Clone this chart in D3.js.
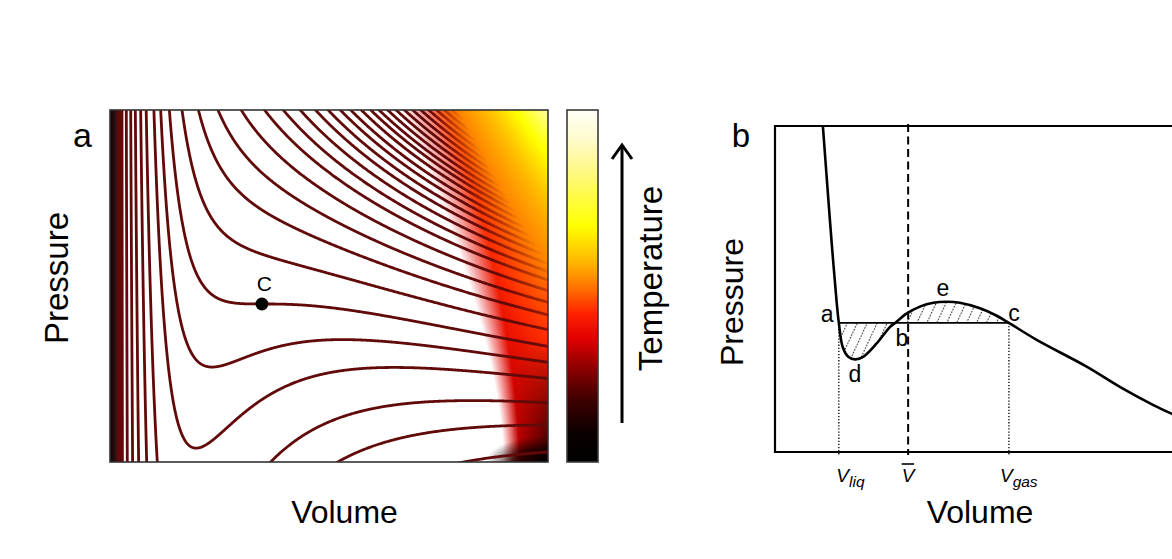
<!DOCTYPE html>
<html>
<head>
<meta charset="utf-8">
<script src="https://cdn.jsdelivr.net/npm/d3@7"></script>
<style>
  html, body { margin: 0; padding: 0; background: #fff; }
  svg { display: block; font-family: "Liberation Sans", Arial, sans-serif; }
</style>
</head>
<body>
<svg id="fig" width="1172" height="559"></svg>
<script>
// ---------- Panel a: reduced van der Waals isotherms, P = 8T/(3V-1) - 3/V^2 ----------
const volumeRangeA = [0.30, 2.318];
const pressureRangeA = [0.20, 1.982];
// reduced temperature of every isotherm drawn (sub-critical, critical, super-critical)
const isothermTemps = [
  0.04, 0.12, 0.212, 0.365, 0.493, 0.602, 0.704, 0.788, 0.879, 0.940,
  1.000,
  1.063, 1.119, 1.166, 1.210, 1.250, 1.282, 1.312, 1.340, 1.364, 1.388, 1.409, 1.431,
  1.451, 1.469, 1.488, 1.507, 1.526, 1.545, 1.564, 1.583, 1.602, 1.621, 1.640, 1.659,
  1.678, 1.697, 1.716, 1.735, 1.754, 1.773, 1.792, 1.811, 1.830, 1.849, 1.868, 1.887
];
const criticalPoint = { V: 1, P: 1, label: "C" };
// temperature colour scale of the colour bar (bottom = cold, top = hot)
const tempStops  = [0, 0.08, 0.18, 0.27, 0.35, 0.42, 0.50, 0.56, 0.67, 0.84, 0.92, 1];
const tempColors = ["#000000", "#0a0000", "#400000", "#900000", "#e00000", "#ff2000",
                    "#ff7800", "#ffb000", "#ffff00", "#fff890", "#fffbd0", "#fffff5"];

// ---------- Panel b: one sub-critical isotherm with the Maxwell construction ----------
const isothermV = [1.14, 1.23, 1.35, 1.47, 1.52, 1.61, 1.745, 1.905, 2.10, 2.42, 2.74, 2.86,
                   3.14, 3.45, 3.77, 4.09, 4.40, 4.88, 5.28, 5.57, 6.23, 7.42, 8.21, 9.01, 9.45, 10.0];
const isothermP = [10.0, 8.44, 6.41, 4.57, 3.96, 3.23, 2.92, 2.84, 2.92, 3.33, 3.84, 3.96,
                   4.25, 4.46, 4.58, 4.61, 4.58, 4.41, 4.18, 3.96, 3.44, 2.62, 2.00, 1.44, 1.17, 0.86];
const maxwellP = 3.96;
const vLiq = 1.52, vBar = 3.17, vGas = 5.57;
const pointNames = ["a", "b", "c", "d", "e"];
const pointLabelV = [1.24, 3.02, 5.69, 1.905, 4.00];
const pointLabelP = [4.00, 3.24, 4.03, 2.16, 4.77];

const svg = d3.select("#fig");
const defs = svg.append("defs");
const clamp01 = v => Math.max(0, Math.min(1, v));

// ================= Panel a =================
const xa = d3.scaleLinear().domain(volumeRangeA).range([110, 548]);
const ya = d3.scaleLinear().domain(pressureRangeA).range([462, 110]);
const [ax0, ax1] = xa.range(), [ay1, ay0] = ya.range();
const aw = ax1 - ax0, ah = ay1 - ay0;

defs.append("clipPath").attr("id", "clipA")
  .append("rect").attr("x", ax0).attr("y", ay0).attr("width", aw).attr("height", ah);

// glow of the hottest, densely packed isotherms (rendered once, used under and over the lines)
const glowRamp = d3.scaleLinear()
  .domain([0, 0.12, 0.3, 0.55, 0.75, 1])
  .range(["#e00000", "#ff3000", "#ff8000", "#ffc000", "#ffff00", "#ffffa0"])
  .clamp(true);
const glowLut = d3.range(256).map(k => d3.rgb(glowRamp(k / 255)));
function glowImage(onTop) {
  const cv = document.createElement("canvas");
  cv.width = aw; cv.height = ah;
  const ctx = cv.getContext("2d");
  const img = ctx.createImageData(aw, ah);
  for (let j = 0; j < ah; j++) {
    const w = 1 - (j + 0.5) / ah;
    const edge = 0.91 - 0.21 * Math.pow(w, 1.6);
    const dark = clamp01((0.35 - w) / 0.35);
    const lift = w * w;
    for (let i = 0; i < aw; i++) {
      const u = (i + 0.5) / aw;
      const h = (u - edge) / (1 - edge);
      if (h < -0.12) continue;
      const t = Math.max(0, h) * lift;
      const a = onTop ? clamp01((t - 0.08) / 0.25) : clamp01((h + 0.12) / 0.4);
      if (a <= 0) continue;
      const c = glowLut[Math.round(clamp01(t) * 255)];
      const k = 0.9 * dark * clamp01(h);
      const p = 4 * (j * aw + i);
      img.data[p] = c.r + (26 - c.r) * k;
      img.data[p + 1] = c.g * (1 - k);
      img.data[p + 2] = c.b * (1 - k);
      img.data[p + 3] = 255 * a;
    }
  }
  ctx.putImageData(img, 0, 0);
  return cv.toDataURL();
}

// dense dark bundle along the left wall
const wall = defs.append("linearGradient").attr("id", "wallShade").attr("x1", 0).attr("x2", 1).attr("y1", 0).attr("y2", 0);
[[0, "#100000", 1], [0.6, "#200000", 0.9], [1, "#2a0000", 0]]
  .forEach(([o, c, a]) => wall.append("stop").attr("offset", o).attr("stop-color", c).attr("stop-opacity", a));

const corner = defs.append("radialGradient").attr("id", "cornerShade");
[[0, "#000000", 1], [0.55, "#1a0000", 0.8], [1, "#300000", 0]]
  .forEach(([o, c, a]) => corner.append("stop").attr("offset", o).attr("stop-color", c).attr("stop-opacity", a));

const gA = svg.append("g");
const plotA = gA.append("g").attr("clip-path", "url(#clipA)");
plotA.append("rect").attr("x", ax0).attr("y", ay0).attr("width", aw).attr("height", ah).attr("fill", "#fff");
plotA.append("image").attr("x", ax0).attr("y", ay0).attr("width", aw).attr("height", ah).attr("href", glowImage(false));
plotA.append("ellipse").attr("cx", ax1).attr("cy", ay1).attr("rx", 62).attr("ry", 26).attr("fill", "url(#cornerShade)");
plotA.append("rect").attr("x", ax0).attr("y", ay0).attr("width", 13).attr("height", ah).attr("fill", "url(#wallShade)");

const vdw = (V, T) => 8 * T / (3 * V - 1) - 3 / (V * V);
const vSamples = d3.range(0, 1.0001, 1 / 900).map(u => 0.3336 + (2.34 - 0.3336) * u * u);
const isoLine = d3.line()
  .x(d => xa(d[0]))
  .y(d => ya(Math.max(-3, Math.min(5, d[1]))));

plotA.append("g").selectAll("path")
  .data(isothermTemps)
  .join("path")
  .attr("d", T => isoLine(vSamples.map(V => [V, vdw(V, T)])))
  .attr("fill", "none")
  .attr("stroke", "#620a0a")
  .attr("stroke-width", 2.8)
  .attr("stroke-linejoin", "round");

plotA.append("image").attr("x", ax0).attr("y", ay0).attr("width", aw).attr("height", ah).attr("href", glowImage(true));

// critical point
gA.append("circle").attr("cx", xa(criticalPoint.V)).attr("cy", ya(criticalPoint.P)).attr("r", 6.5).attr("fill", "#000");
gA.append("text").attr("x", xa(criticalPoint.V) + 2.5).attr("y", ya(criticalPoint.P) - 13)
  .attr("text-anchor", "middle").attr("font-size", 21).text(criticalPoint.label);

gA.append("rect").attr("x", ax0).attr("y", ay0).attr("width", aw).attr("height", ah)
  .attr("fill", "none").attr("stroke", "#333").attr("stroke-width", 1.6);

gA.append("text").attr("x", 82.5).attr("y", 147).attr("text-anchor", "middle").attr("font-size", 34).text("a");
gA.append("text").attr("transform", "translate(68,278) rotate(-90)").attr("text-anchor", "middle").attr("font-size", 33).text("Pressure");
gA.append("text").attr("x", 344.5).attr("y", 523).attr("text-anchor", "middle").attr("font-size", 32).text("Volume");

// colour bar
const tScale = d3.scaleLinear().domain([0, 1]).range([462, 110]);
const cbar = defs.append("linearGradient").attr("id", "tempBar")
  .attr("gradientUnits", "userSpaceOnUse").attr("x1", 0).attr("x2", 0)
  .attr("y1", tScale(0)).attr("y2", tScale(1));
tempStops.forEach((s, i) => cbar.append("stop").attr("offset", s).attr("stop-color", tempColors[i]));
gA.append("rect").attr("x", 567).attr("y", tScale(1)).attr("width", 31).attr("height", tScale(0) - tScale(1))
  .attr("fill", "url(#tempBar)").attr("stroke", "#3a3a3a").attr("stroke-width", 1.6);

// temperature arrow
gA.append("path").attr("d", "M622,423 V146").attr("stroke", "#000").attr("stroke-width", 3).attr("fill", "none");
gA.append("path").attr("d", "M612,159 L622,145 L632,159").attr("stroke", "#000").attr("stroke-width", 3)
  .attr("fill", "none").attr("stroke-linejoin", "miter");
gA.append("text").attr("transform", "translate(662,278.5) rotate(-90)").attr("text-anchor", "middle")
  .attr("font-size", 33).text("Temperature");

// ================= Panel b =================
const xb = d3.scaleLinear().domain([0, 10]).range([775, 1195]);
const yb = d3.scaleLinear().domain([0, 10]).range([452, 126]);
const gB = svg.append("g");
const pts = isothermV.map((v, i) => [v, isothermP[i]]);

// hatch for the equal-area regions
const hatch = defs.append("pattern").attr("id", "hatch").attr("patternUnits", "userSpaceOnUse")
  .attr("width", 9).attr("height", 9).attr("patternTransform", "rotate(25)");
hatch.append("line").attr("x1", 4.5).attr("x2", 4.5).attr("y1", 0).attr("y2", 9)
  .attr("stroke", "#222").attr("stroke-width", 1.1).attr("stroke-dasharray", "1.5 1.5");

const loopPts = pts.filter(d => d[0] >= vLiq && d[0] <= vGas);
const hatchArea = d3.area()
  .x(d => xb(d[0])).y0(yb(maxwellP)).y1(d => yb(d[1]))
  .curve(d3.curveCatmullRom.alpha(0.5));
gB.append("path").attr("d", hatchArea(loopPts)).attr("fill", "url(#hatch)");

// frame (right side runs off the page)
gB.append("path").attr("d", `M1200,${yb(10)} H${xb(0)} V${yb(0)} H1200`)
  .attr("fill", "none").attr("stroke", "#000").attr("stroke-width", 2.2);

// mean volume (dashed) and coexistence volumes (dotted)
gB.append("line").attr("x1", xb(vBar)).attr("x2", xb(vBar)).attr("y1", yb(10) - 2).attr("y2", yb(0) + 3)
  .attr("stroke", "#000").attr("stroke-width", 2).attr("stroke-dasharray", "8 4.5");
[vLiq, vGas].forEach(v => gB.append("line")
  .attr("x1", xb(v)).attr("x2", xb(v)).attr("y1", yb(maxwellP)).attr("y2", yb(0) + 3)
  .attr("stroke", "#000").attr("stroke-width", 1.3).attr("stroke-dasharray", "1.3 1.8"));

// tie line
gB.append("line").attr("x1", xb(vLiq)).attr("x2", xb(vGas)).attr("y1", yb(maxwellP)).attr("y2", yb(maxwellP))
  .attr("stroke", "#000").attr("stroke-width", 1.8);

// isotherm
gB.append("path").attr("d", d3.line().x(d => xb(d[0])).y(d => yb(d[1])).curve(d3.curveCatmullRom.alpha(0.5))(pts))
  .attr("fill", "none").attr("stroke", "#000").attr("stroke-width", 2.6).attr("stroke-linejoin", "round");

// point labels
gB.selectAll("text.pt").data(pointNames).join("text").attr("class", "pt")
  .attr("x", (d, i) => xb(pointLabelV[i])).attr("y", (d, i) => yb(pointLabelP[i]))
  .attr("text-anchor", "middle").attr("font-size", 23).text(d => d);

// volume tick labels
function volLabel(x, sub) {
  const t = gB.append("text").attr("x", x).attr("y", 482).attr("font-size", 19);
  t.append("tspan").attr("font-style", "italic").text("V");
  if (sub) t.append("tspan").attr("font-style", "italic").attr("font-size", 15.5).attr("dy", 5).text(sub);
  return t;
}
volLabel(xb(vLiq) - 2.5, "liq");
volLabel(xb(vGas) - 9, "gas");
volLabel(xb(vBar) - 6.3, null);
gB.append("line").attr("x1", xb(vBar) - 6.5).attr("x2", xb(vBar) + 6).attr("y1", 464).attr("y2", 464)
  .attr("stroke", "#000").attr("stroke-width", 1.6);

gB.append("text").attr("x", 741).attr("y", 146.7).attr("text-anchor", "middle").attr("font-size", 33).text("b");
gB.append("text").attr("transform", "translate(743,302) rotate(-90)").attr("text-anchor", "middle").attr("font-size", 32).text("Pressure");
gB.append("text").attr("x", 980).attr("y", 523).attr("text-anchor", "middle").attr("font-size", 32).text("Volume");
</script>
</body>
</html>
